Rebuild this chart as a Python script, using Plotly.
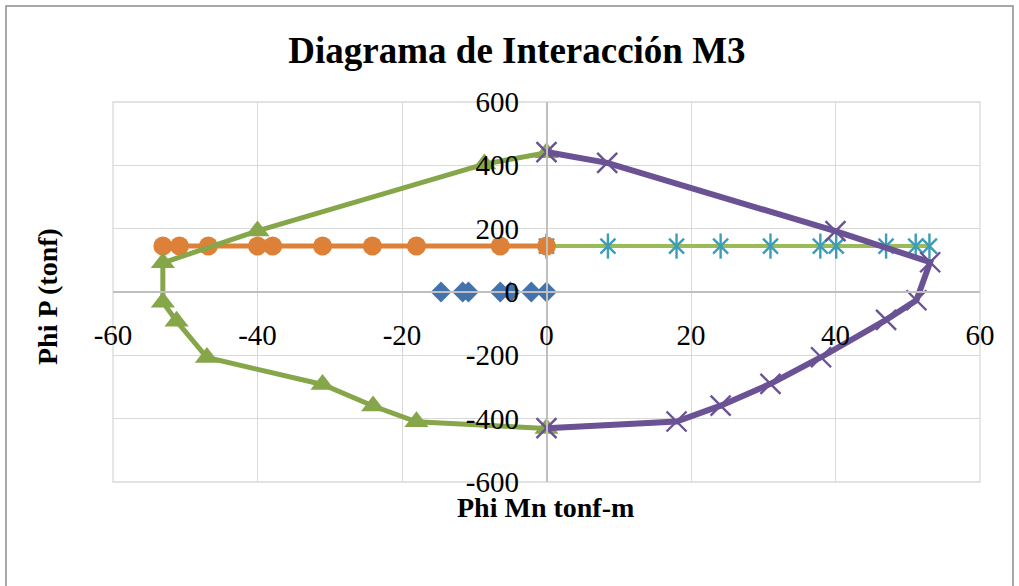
import plotly.graph_objects as go

# ---- data ----
blue_x = [-14.6, -11.6, -10.8, -6.4, -5.0, -2.1, 0.0]
blue_y = [0, 0, 0, 0, 0, 0, 0]

orange_x = [0.0, -6.4, -18.0, -24.1, -31.0, -37.9, -40.0, -46.8, -50.8, -53.1]
orange_y = [145, 145, 145, 145, 145, 145, 145, 145, 145, 145]

green_x = [0.0, -8.6, -40.0, -53.1, -53.1, -51.2, -47.0, -31.0, -24.0, -18.0, 0.0]
green_y = [440, 404, 193, 92, -32, -92, -207, -292, -360, -410, -431]

star_x = [0.0, 8.5, 18.0, 24.1, 31.0, 37.9, 40.1, 47.0, 51.1, 53.0]
star_y = [145, 145, 145, 145, 145, 145, 145, 145, 145, 145]

purple_x = [0.0, 8.4, 40.0, 53.1, 51.2, 47.0, 38.0, 31.0, 24.1, 18.0, 0.0]
purple_y = [442, 408, 192, 94, -26, -88, -206, -290, -359, -409, -430]

x_ticks = [-60, -40, -20, 0, 20, 40, 60]
x_ticklabels = ["-60", "-40", "-20", "0", "20", "40", "60"]
y_ticks = [-600, -400, -200, 0, 200, 400, 600]
y_ticklabels = ["-600", "-400", "-200", "0", "200", "400", "600"]

title_text = "Diagrama de Interacción M3"
x_title = "Phi Mn tonf-m"
y_title = "Phi P (tonf)"

# ---- styling ----
BLUE = "#4372AD"
ORANGE = "#DD8038"
GREEN = "#86A64A"
LIGHTGREEN = "#9BBB59"
TEAL = "#3C9DB8"
PURPLE = "#6A5294"
GRID = "#D9D9D9"
AXIS = "#BFBFBF"
SERIF = "Liberation Serif, DejaVu Serif, serif"

fig = go.Figure()

fig.add_trace(go.Scatter(
    x=blue_x, y=blue_y, mode="markers",
    marker=dict(symbol="diamond", size=16, color=BLUE, line=dict(width=0)),
    name="S1"))

fig.add_trace(go.Scatter(
    x=star_x, y=star_y, mode="lines+markers",
    line=dict(color=LIGHTGREEN, width=4),
    marker=dict(symbol="x-thin-open", size=15, color=TEAL, line=dict(width=2.4, color=TEAL)),
    name="S4"))
fig.add_trace(go.Scatter(
    x=star_x, y=star_y, mode="markers",
    marker=dict(symbol="line-ns-open", size=18, color=TEAL, line=dict(width=2.4, color=TEAL)),
    showlegend=False, name="S4b"))

fig.add_trace(go.Scatter(
    x=orange_x, y=orange_y, mode="lines+markers",
    line=dict(color=ORANGE, width=5),
    marker=dict(symbol="circle", size=19, color=ORANGE, line=dict(width=0)),
    name="S2"))

fig.add_trace(go.Scatter(
    x=green_x, y=green_y, mode="lines+markers",
    line=dict(color=GREEN, width=5),
    marker=dict(symbol="triangle-up", size=21, color=GREEN, line=dict(width=0)),
    name="S3"))

fig.add_trace(go.Scatter(
    x=purple_x, y=purple_y, mode="lines+markers",
    line=dict(color=PURPLE, width=6),
    marker=dict(symbol="x-thin-open", size=20, color=PURPLE, line=dict(width=2.4, color=PURPLE)),
    name="S5"))

fig.update_layout(
    width=1019, height=586,
    margin=dict(l=113, r=39, t=102, b=104),
    paper_bgcolor="white", plot_bgcolor="white",
    showlegend=False,
    title=dict(text=f"<b>{title_text}</b>", x=(517 - 0) / 1019, xanchor="center",
               y=1 - 50 / 586, yanchor="middle",
               font=dict(family=SERIF, size=37, color="black")),
    xaxis=dict(range=[-60, 60], tickvals=x_ticks, ticktext=x_ticklabels,
               showgrid=True, gridcolor=GRID, gridwidth=1.3,
               zeroline=False, showline=True, linecolor=AXIS, linewidth=1.5,
               anchor="free", position=0.5, ticks="", ticklabelstandoff=17,
               tickfont=dict(family=SERIF, size=29, color="black")),
    yaxis=dict(range=[-600, 600], tickvals=y_ticks, ticktext=y_ticklabels,
               showgrid=True, gridcolor=GRID, gridwidth=1.3,
               zeroline=False, showline=True, linecolor=AXIS, linewidth=1.5,
               anchor="free", position=0.5, ticks="", ticklabelstandoff=21,
               tickfont=dict(family=SERIF, size=29, color="black")),
    annotations=[
        dict(text=f"<b>{x_title}</b>", xref="paper", yref="paper",
             x=(545 - 113) / 867, y=(482 - 507) / 380, xanchor="center", yanchor="middle",
             showarrow=False, font=dict(family=SERIF, size=28, color="black")),
        dict(text=f"<b>{y_title}</b>", xref="paper", yref="paper",
             x=(47 - 113) / 867, y=(482 - 297) / 380, xanchor="center", yanchor="middle",
             textangle=-90, showarrow=False,
             font=dict(family=SERIF, size=28, color="black")),
    ],
    shapes=[
        dict(type="rect", xref="paper", yref="paper", x0=0, x1=1, y0=0, y1=1,
             line=dict(color=GRID, width=1.3), layer="below"),
        dict(type="rect", xref="paper", yref="paper",
             x0=(6 - 113) / 867, x1=(1013 - 113) / 867,
             y0=(482 - 620) / 380, y1=(482 - 6) / 380,
             line=dict(color="#8C8C8C", width=1.5), layer="below"),
    ],
)

fig.write_html("out.html", config={"displayModeBar": False},
               post_script="document.body.style.margin='0';")
